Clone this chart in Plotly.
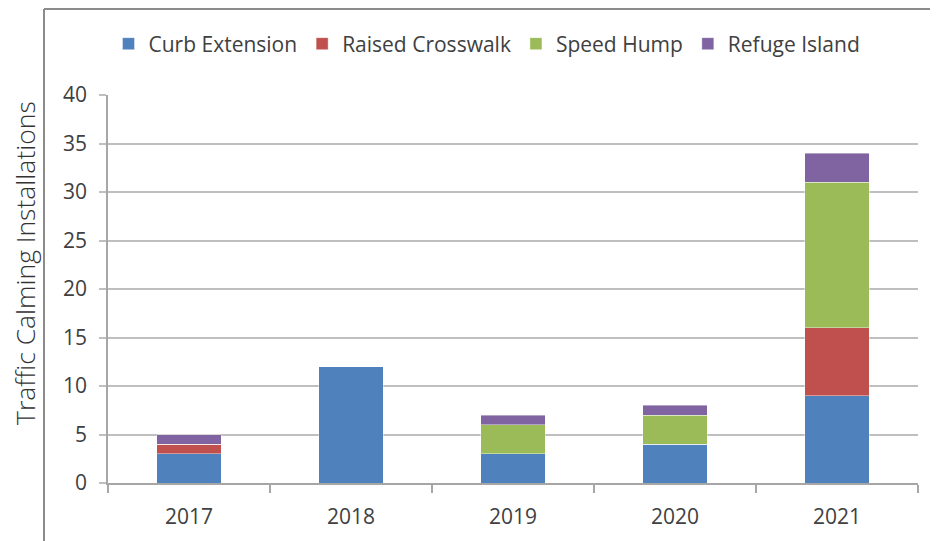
import plotly.graph_objects as go

years = ["2017", "2018", "2019", "2020", "2021"]
curb_extension = [3, 12, 3, 4, 9]
raised_crosswalk = [1, 0, 0, 0, 7]
speed_hump = [0, 0, 3, 3, 15]
refuge_island = [1, 0, 1, 1, 3]

series = [
    ("Curb Extension", curb_extension, "#4F81BD"),
    ("Raised Crosswalk", raised_crosswalk, "#C0504D"),
    ("Speed Hump", speed_hump, "#9BBB59"),
    ("Refuge Island", refuge_island, "#8064A2"),
]

fig = go.Figure()
for name, vals, col in series:
    fig.add_trace(go.Bar(
        x=years, y=vals, name=name,
        marker=dict(color=col, line=dict(color="rgba(255,255,255,0.5)", width=0.8)),
    ))

OFF = 8  # page body margin
W, H = 938 - OFF, 541 - OFF
# plot area in page coordinates
PL, PR, PT, PB = 108, 918, 95, 483
L, T = PL - OFF, PT - OFF
R, B = W - (PR - OFF), H - (PB - OFF)
pw, ph = PR - PL, PB - PT

def px(x):
    return (x - PL) / pw

def py(y):
    return (PB - y) / ph

fig.update_layout(
    width=W, height=H,
    barmode="stack", bargap=0.6,
    margin=dict(l=L, r=R, t=T, b=B),
    paper_bgcolor="white", plot_bgcolor="white",
    font=dict(family="Open Sans, sans-serif", size=20, color="#404040"),
    legend=dict(
        orientation="h", x=0.5 - 26 / pw, xanchor="center", y=py(44), yanchor="middle",
        font=dict(size=21, color="#404040"), traceorder="normal",
        itemwidth=30,
    ),
    showlegend=True,
    xaxis=dict(
        showgrid=False, showline=True, linecolor="#A6A6A6", linewidth=1.5,
        ticks="outside", tickson="boundaries", ticklen=8, tickcolor="#A6A6A6",
        tickwidth=1.5, tickfont=dict(size=21, color="#404040"),
        ticklabelstandoff=14,
    ),
    yaxis=dict(
        range=[0, 40], dtick=5, showgrid=True, gridcolor="#BFBFBF", gridwidth=1.5,
        showline=True, linecolor="#A6A6A6", linewidth=1.5,
        ticks="outside", ticklen=7, tickcolor="#BFBFBF", tickwidth=1.5,
        tickfont=dict(size=21, color="#404040"), zeroline=False,
        ticklabelstandoff=8,
    ),
    annotations=[dict(
        text="Traffic Calming Installations", textangle=-90,
        x=px(25), y=py(263), xref="paper", yref="paper",
        xanchor="center", yanchor="middle", showarrow=False,
        font=dict(family="Open Sans, sans-serif", size=26.5, color="#333333", weight=300),
    )],
    shapes=[
        dict(type="line", xref="paper", yref="paper",
             x0=px(44), x1=px(44), y0=py(9), y1=py(560),
             line=dict(color="#8C8C8C", width=2)),
        dict(type="line", xref="paper", yref="paper",
             x0=px(44), x1=px(960), y0=py(9), y1=py(9),
             line=dict(color="#8C8C8C", width=2)),
    ],
)

fig.write_html("out.html")
